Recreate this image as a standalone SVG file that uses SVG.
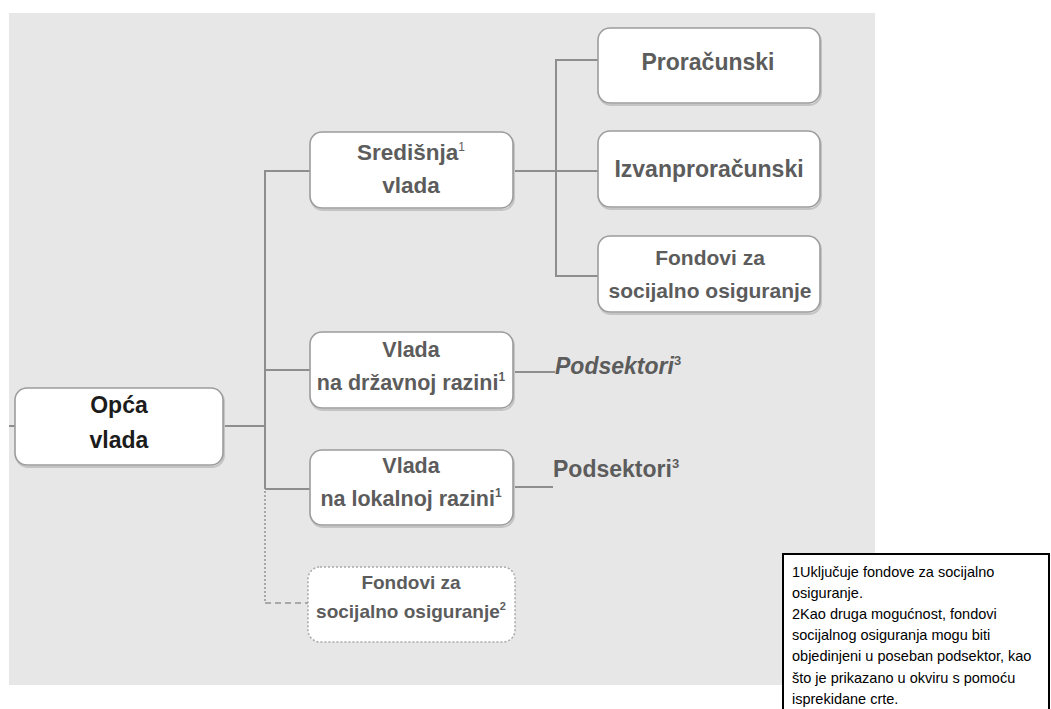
<svg xmlns="http://www.w3.org/2000/svg" width="1051" height="709" viewBox="0 0 1051 709">
<defs>
<style>
.bg{fill:#e7e7e7}
.box{fill:#ffffff;stroke:#9c9c9c;stroke-width:1.6}
.shadow{fill:none;stroke:#c4c4c4;stroke-width:2}
.dbox{fill:#ffffff;stroke:#a8a8a8;stroke-width:1.5;stroke-dasharray:2 2}
.t{font-family:"Liberation Sans",Arial,sans-serif;font-weight:bold;fill:#5c5c5c;text-anchor:middle}
.tl{font-family:"Liberation Sans",Arial,sans-serif;font-weight:bold;fill:#5c5c5c}
.dark{fill:#1c1c1c}
.ln{stroke:#8e8e8e;stroke-width:2;fill:none}
.dot{stroke:#a8a8a8;stroke-width:2;fill:none;stroke-dasharray:2 2}
.dash{stroke:#a8a8a8;stroke-width:2;fill:none;stroke-dasharray:6 4}
.fn{font-family:"Liberation Sans",Arial,sans-serif;font-size:14.5px;fill:#000000}
</style>
</defs>
<rect class="bg" x="9" y="13" width="866" height="672"/>

<g id="connectors">
<line class="ln" x1="9" y1="426" x2="15" y2="426"/>
<line class="ln" x1="223" y1="426" x2="265" y2="426"/>
<line class="ln" x1="265" y1="171" x2="265" y2="489"/>
<line class="ln" x1="264" y1="171" x2="310" y2="171"/>
<line class="ln" x1="265" y1="370" x2="310" y2="370"/>
<line class="ln" x1="265" y1="489" x2="310" y2="489"/>
<line class="dot" x1="265" y1="491" x2="265" y2="603"/>
<line class="dash" x1="265" y1="603" x2="308" y2="603"/>
<line class="ln" x1="513" y1="171" x2="598" y2="171"/>
<line class="ln" x1="556" y1="59" x2="556" y2="277"/>
<line class="ln" x1="555" y1="60" x2="598" y2="60"/>
<line class="ln" x1="555" y1="276" x2="598" y2="276"/>
<line class="ln" x1="513" y1="372" x2="555" y2="372"/>
<line class="ln" x1="513" y1="487" x2="553" y2="487"/>
</g>

<g id="opca-vlada">
<rect class="shadow" x="16" y="390" width="208" height="77" rx="12"/>
<rect class="box" x="15" y="388" width="208" height="77" rx="12"/>
<text class="t dark" x="119" y="413" font-size="23">Opća</text>
<text class="t dark" x="119" y="448" font-size="23">vlada</text>
</g>

<g id="sredisnja-vlada">
<rect class="shadow" x="311" y="134" width="203" height="76" rx="12"/>
<rect class="box" x="310" y="132" width="203" height="76" rx="12"/>
<text class="t" x="411" y="160" font-size="22.5">Središnja<tspan font-size="12" font-weight="normal" dy="-9">1</tspan></text>
<text class="t" x="411" y="193" font-size="22.5">vlada</text>
</g>

<g id="proracunski">
<rect class="shadow" x="599" y="30" width="222" height="75" rx="12"/>
<rect class="box" x="598" y="28" width="222" height="75" rx="12"/>
<text class="t" x="708" y="70" font-size="23">Proračunski</text>
</g>

<g id="izvanproracunski">
<rect class="shadow" x="599" y="133" width="222" height="76" rx="12"/>
<rect class="box" x="598" y="131" width="222" height="76" rx="12"/>
<text class="t" x="709" y="177" font-size="23">Izvanproračunski</text>
</g>

<g id="fondovi-sredisnja">
<rect class="shadow" x="599" y="238" width="222" height="76" rx="12"/>
<rect class="box" x="598" y="236" width="222" height="76" rx="12"/>
<text class="t" x="710" y="265" font-size="21">Fondovi za</text>
<text class="t" x="710" y="298" font-size="21">socijalno osiguranje</text>
</g>

<g id="vlada-drzavna">
<rect class="shadow" x="311" y="334" width="203" height="76" rx="12"/>
<rect class="box" x="310" y="332" width="203" height="76" rx="12"/>
<text class="t" x="411" y="357" font-size="21.5">Vlada</text>
<text class="t" x="411" y="390" font-size="21.5">na državnoj razini<tspan font-size="12" dy="-9">1</tspan></text>
</g>

<g id="podsektori-drzavna">
<text class="tl" x="555" y="374" font-size="23" font-style="italic">Podsektori<tspan font-size="13" font-style="normal" dy="-9">3</tspan></text>
</g>

<g id="vlada-lokalna">
<rect class="shadow" x="311" y="452" width="203" height="75" rx="12"/>
<rect class="box" x="310" y="450" width="203" height="75" rx="12"/>
<text class="t" x="411" y="473" font-size="21.5">Vlada</text>
<text class="t" x="411" y="506" font-size="21.5">na lokalnoj razini<tspan font-size="12" dy="-9">1</tspan></text>
</g>

<g id="podsektori-lokalna">
<text class="tl" x="553" y="477" font-size="23">Podsektori<tspan font-size="13" dy="-9">3</tspan></text>
</g>

<g id="fondovi-zasebno">
<rect class="dbox" x="308" y="567" width="207" height="75" rx="12"/>
<text class="t" x="411" y="589" font-size="19">Fondovi za</text>
<text class="t" x="411" y="618" font-size="19">socijalno osiguranje<tspan font-size="11" dy="-8">2</tspan></text>
</g>

<g id="footnote">
<rect x="783" y="554" width="266" height="170" fill="#ffffff" stroke="#000000" stroke-width="2"/>
<text class="fn" x="792" y="577">1Uključuje fondove za socijalno</text>
<text class="fn" x="792" y="598">osiguranje.</text>
<text class="fn" x="792" y="619">2Kao druga mogućnost, fondovi</text>
<text class="fn" x="792" y="640">socijalnog osiguranja mogu biti</text>
<text class="fn" x="792" y="661">objedinjeni u poseban podsektor, kao</text>
<text class="fn" x="792" y="683">što je prikazano u okviru s pomoću</text>
<text class="fn" x="792" y="704">isprekidane crte.</text>
</g>
</svg>
